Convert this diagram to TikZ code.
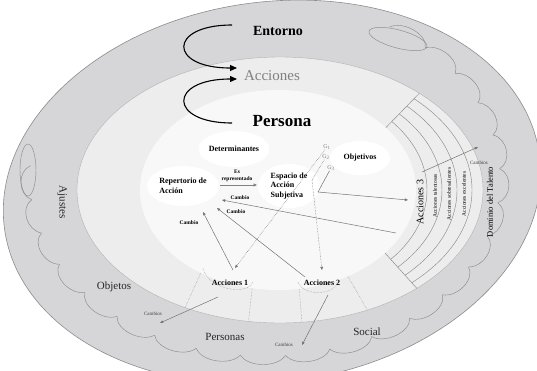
\documentclass[tikz,border=0pt]{standalone}
\usepackage{fontspec}
\setmainfont{Liberation Serif}
\usetikzlibrary{arrows.meta,shapes.geometric}
\definecolor{ringA}{HTML}{D6D6D9}
\definecolor{ringB}{HTML}{EDEDEE}
\definecolor{core}{HTML}{F8F8F9}
\definecolor{edge}{HTML}{8C8C90}
\tikzset{
 lbl/.style={font=\bfseries\fontsize{8}{9.5}\selectfont, align=left, inner sep=0pt},
 tinylab/.style={font=\bfseries\fontsize{5.5}{6.5}\selectfont, inner sep=0.5pt, align=center},
 tinyreg/.style={font=\fontsize{5}{6}\selectfont, inner sep=0.5pt, text=black!75},
 zone/.style={font=\fontsize{11}{12}\selectfont, inner sep=0pt, text=black!85},
 bubble/.style={ellipse, fill=white, inner sep=0pt},
 conn/.style={draw=black!55, line width=0.5pt, -{Triangle[length=3.2pt,width=2.6pt]}},
 dconn/.style={conn, densely dotted},
 fine/.style={draw=black!45, line width=0.45pt},
 bigarrow/.style={line width=1.1pt, -{Triangle[length=7pt,width=6pt]}},
}
\begin{document}
\begin{tikzpicture}[x=1pt,y=-1pt]
\useasboundingbox (0,0) rectangle (537,370);
\begin{scope}
\clip (0,0) rectangle (537,370);
% outer ring
\fill[ringA, draw=edge, line width=0.6pt, rotate around={8:(272,192)}] (272,192) ellipse [x radius=270, y radius=190];
% scalloped inner edge of the environment band
\foreach \a in {184,173,...,-47} {
  \pgfmathsetmacro\b{\a-11}
  \draw[fine, draw=black!45] ({265+235*cos(\a)},{178+178*sin(\a)}) .. controls ({265+248*cos(\a-2)},{178+190*sin(\a-2)}) and ({265+248*cos(\b+2)},{178+190*sin(\b+2)}) .. ({265+235*cos(\b)},{178+178*sin(\b)});
}
% end loops
\draw[fine, draw=black!45] (28,170) ellipse [x radius=8, y radius=26];
\draw[fine, draw=black!45, rotate around={-15:(398,39)}] (398,39) ellipse [x radius=30, y radius=9];
% acciones band
\fill[ringB, draw=black!30, line width=0.4pt] (280,190) ellipse [x radius=203, y radius=133];
\begin{scope}
  \clip (280,190) ellipse [x radius=203, y radius=133];
  \begin{scope}
    \clip (367,147) -- (540,-31) -- (540,425) -- (367,233) -- cycle;
    \foreach \rx/\ry in {149/106,164/113,179/121,194/128}
      \draw[fine] (278,190) ellipse [x radius=\rx, y radius=\ry];
  \end{scope}
  \draw[fine] (367,147) -- (440,72);
  \draw[fine] (367,233) -- (430,303);
  \draw[fine, densely dotted] (212,248) -- (175,330);
  \draw[fine, densely dotted] (255,262) -- (247,335);
  \draw[fine, densely dotted] (297,262) -- (303,335);
  \draw[fine, densely dotted] (333,251) -- (379,330);
\end{scope}
% persona core
\fill[core] (278,190) ellipse [x radius=138, y radius=100];
\end{scope}

% Entorno / Acciones / Persona
\node[font=\bfseries\fontsize{14}{16}\selectfont] (entorno) at (278,31) {Entorno};
\node[font=\fontsize{15}{17}\selectfont, text=black!50] (acciones) at (272,76) {Acciones};
\node[font=\bfseries\fontsize{17}{19}\selectfont] (persona) at (282,121) {Persona};
\coordinate (u1) at (232,25); \coordinate (u2) at (237,68);
\draw[bigarrow] (u1) .. controls (168,25) and (168,68) .. (u2);
\coordinate (l1) at (232,123); \coordinate (l2) at (237,79);
\draw[bigarrow] (l1) .. controls (168,123) and (168,79) .. (l2);

% bubbles
\node[bubble, lbl, minimum width=60pt, minimum height=36pt] (det) at (234,149) {Determinantes};
\node[bubble, lbl, minimum width=72pt, minimum height=40pt] (rep) at (183,186) {Repertorio de\\Acción};
\node[bubble, lbl, minimum width=62pt, minimum height=44pt] (esp) at (289,186) {Espacio de\\Acción\\Subjetiva};
\node[bubble, lbl, minimum width=60pt, minimum height=34pt] (obj) at (360,158) {Objetivos};
\node[font=\fontsize{6}{6}\selectfont, text=black!50, inner sep=0pt] (g1) at (327,147) {G\textsubscript{1}};
\node[font=\fontsize{6}{6}\selectfont, text=black!50, inner sep=0pt] (g2) at (326,157) {G\textsubscript{2}};
\node[font=\fontsize{6}{6}\selectfont, text=black!50, inner sep=0pt] (g3) at (331,168) {G\textsubscript{3}};

% Acciones 1 / 2
\node[lbl] (a1) at (230,283) {Acciones 1};
\node[lbl] (a2) at (322,283) {Acciones 2};
\draw[fine, densely dotted] (203,268) .. controls (208,290) and (248,296) .. (253,282);
\draw[fine, densely dotted] (298,282) .. controls (302,296) and (334,296) .. (338,282);

% connectors in the core
\coordinate (rp) at (220,185); \coordinate (ep) at (257,185);
\draw[draw=black!50, line width=0.9pt, -{Triangle[length=3.5pt,width=3pt]}] (rp) -- (ep);
\node[tinylab] (esrep) at (237,176) {Es\\representado};

\coordinate (s3) at (396,233); \coordinate (t1) at (222,200);
\draw[conn] (s3) -- (t1);
\node[tinylab] (cb1) at (240,198) {Cambio};
\coordinate (s2) at (305,277); \coordinate (t2) at (217,208);
\draw[conn] (s2) -- (t2);
\node[tinylab] (cb2) at (236,212) {Cambio};
\coordinate (s1) at (233,270); \coordinate (t3) at (203,212);
\draw[conn] (s1) -- (t3);
\node[tinylab] (cb3) at (189,223) {Cambio};

\coordinate (a1t) at (235,268); \coordinate (a2t) at (322,270); \coordinate (a3t) at (408,200);
\draw[dconn] (g1) -- (a1t);
\draw[dconn] (g2) -- (312,180) -- (a2t);
\draw[conn] (g3) -- (318,192) -- (a3t);

% Cambios arrows towards the environment
\coordinate (a1s) at (218,297); \coordinate (c1) at (160,323);
\draw[conn] (a1s) -- (c1);
\node[tinyreg] (cs1) at (153,314) {Cambios};
\coordinate (a2s) at (328,295); \coordinate (c2) at (302,345);
\draw[conn] (a2s) -- (c2);
\node[tinyreg] (cs2) at (284,345) {Cambios};
\coordinate (a3s) at (422,172); \coordinate (c3) at (478,147);
\draw[conn] (a3s) -- (c3);
\node[tinyreg] (cs3) at (479,163) {Cambios};

% striped sector labels
\node[font=\fontsize{10}{11}\selectfont, rotate=90, inner sep=0pt] (ac3) at (420,202) {Acciones 3};
\node[font=\fontsize{5.5}{6}\selectfont, rotate=90, inner sep=0pt] (ac4) at (435,196) {Acciones talentosas};
\node[font=\fontsize{5.5}{6}\selectfont, rotate=90, inner sep=0pt] (ac5) at (449,194) {Acciones sobresalientes};
\node[font=\fontsize{5.5}{6}\selectfont, rotate=90, inner sep=0pt] (ac6) at (464,194) {Acciones excelentes};
\node[font=\fontsize{8.5}{9}\selectfont, rotate=90, inner sep=0pt] (dom) at (490,202) {Dominio del Talento};

% environment labels
\node[zone, rotate=-90] (aju) at (62,202) {Ajustes};
\node[zone] (objs) at (114,287) {Objetos};
\node[zone] (pers) at (225,337) {Personas};
\node[zone] (soc) at (367,332) {Social};
\end{tikzpicture}
\end{document}
